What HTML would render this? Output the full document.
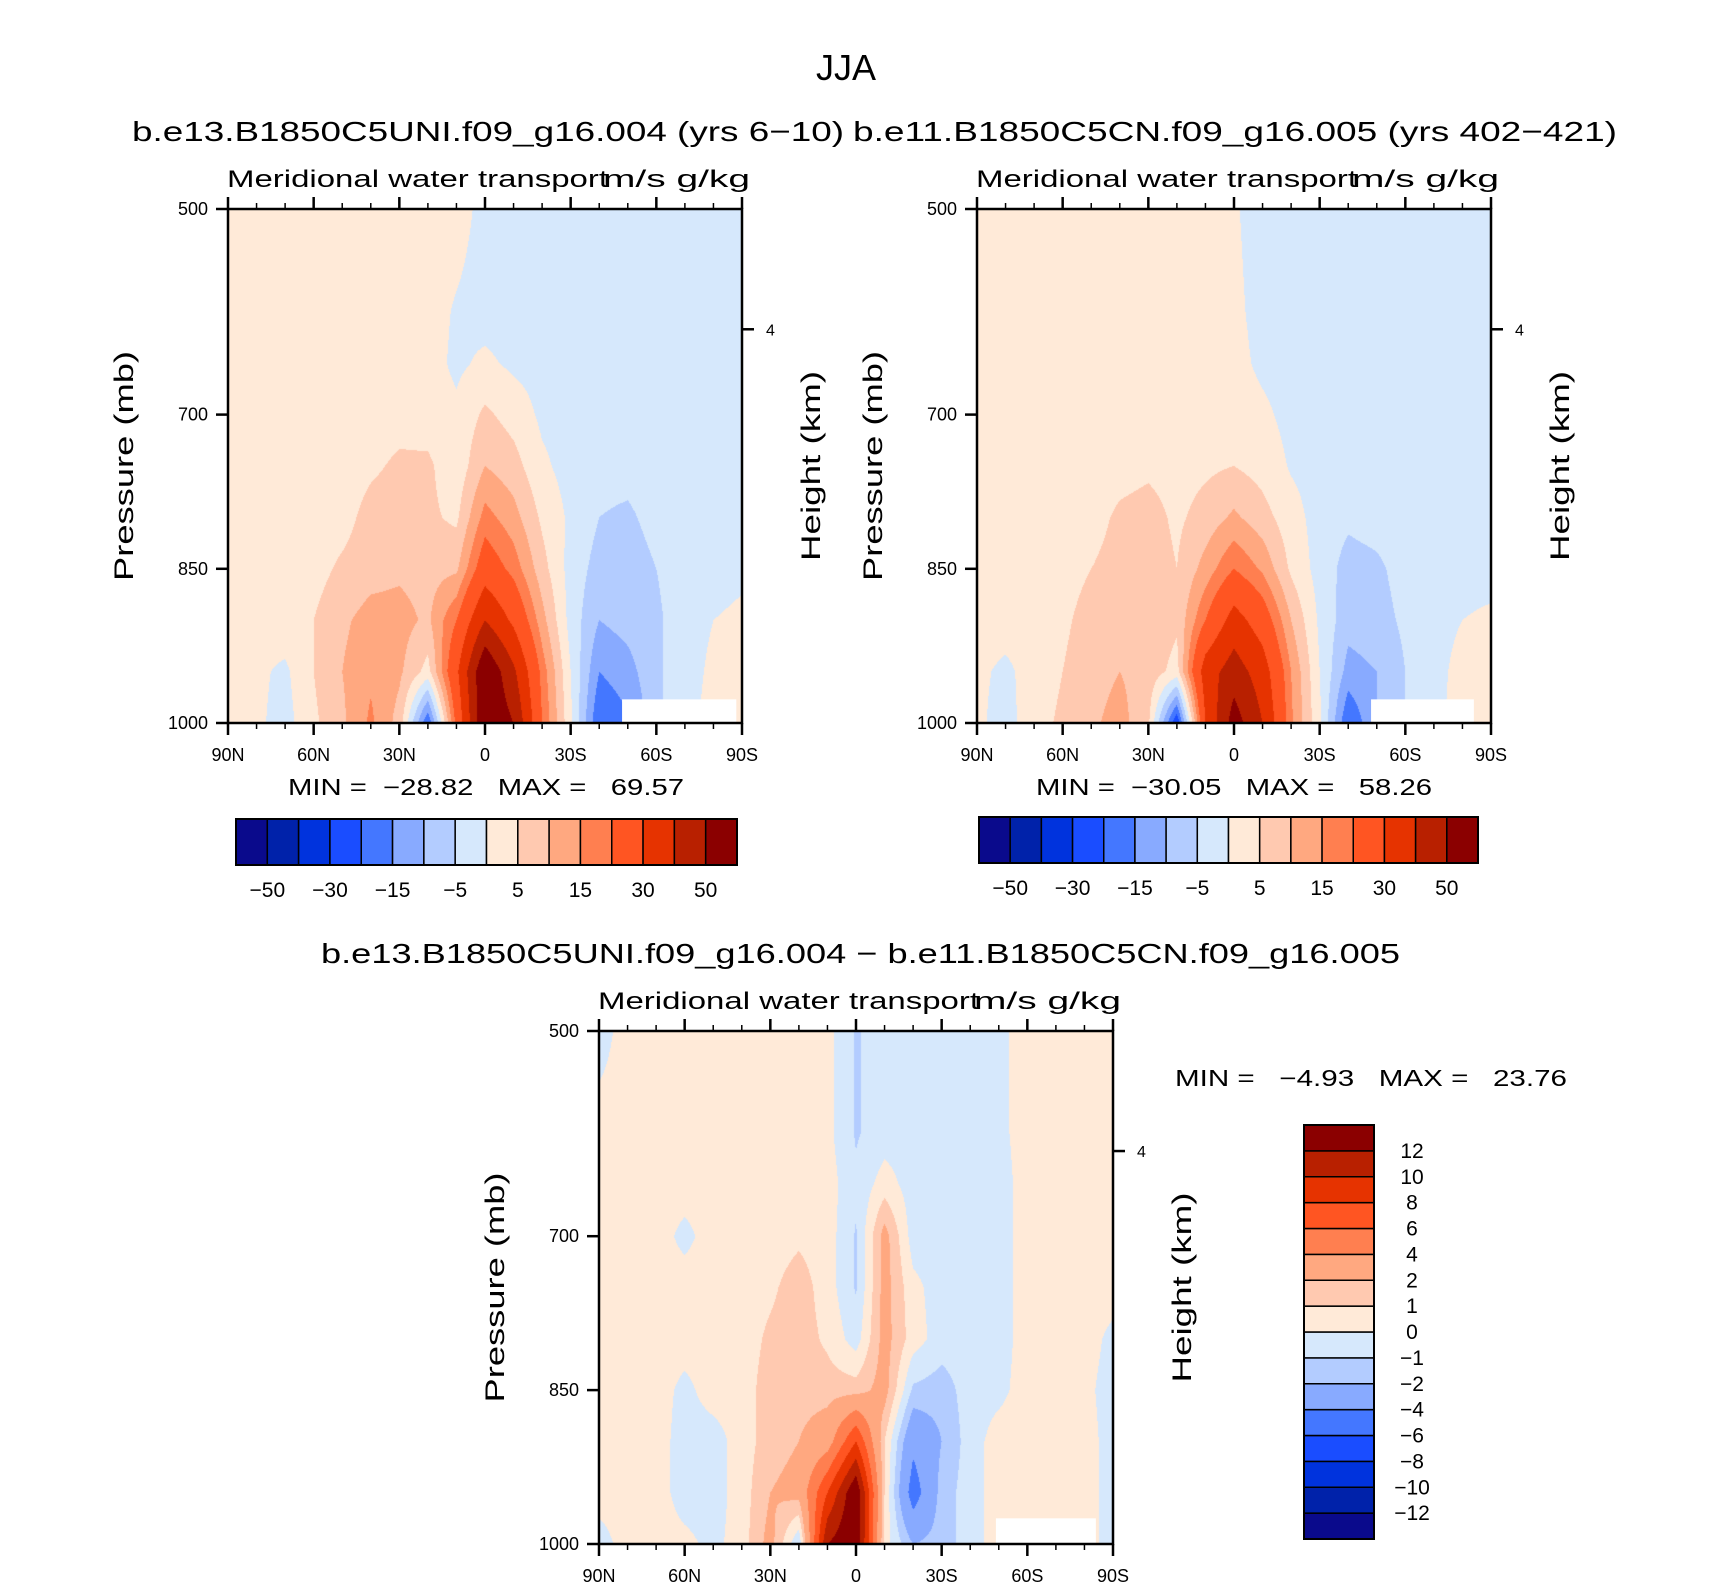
<!DOCTYPE html>
<html><head><meta charset="utf-8">
<style>
html,body{margin:0;padding:0;background:#fff;}
#wrap{position:relative;width:1710px;height:1591px;overflow:hidden;background:#fff;font-family:"Liberation Sans",sans-serif;}
canvas{position:absolute;}
svg{position:absolute;left:0;top:0;}
text{white-space:pre;}
</style></head>
<body>
<div id="wrap">
<svg id="svg" width="1710" height="1591"></svg>
</div>
<script>
const lats=[90,80,70,60,50,40,30,20,10,0,-10,-20,-30,-40,-50,-60,-70,-80,-90];
const pLevels=[500,600,650,700,750,800,850,900,950,1000];
const field1=[
[2,2,2,2,2,2,2,2,2,-1.5,-2,-2,-2,-2,-2,-2,-2,-2,-2],
[2,2,2,2,2,2,2,2,-0.5,-2,-2,-2,-2,-2,-2,-2,-2,-2,-2],
[2,2,2,2,2,2,2,2,-1,1,-1,-2,-2,-2,-2,-2,-2,-2,-2],
[2,2,2,2,2,2,3,2.5,1,6,3,-1,-2,-2,-2,-2,-2,-2,-2],
[2,2,2,2,2,4,6,6,1.5,10,7,1,-2,-3,-3,-2,-2,-2,-2],
[2,2,2,2,3,7,8,6,4,17,12,4,-1,-5,-6,-3,-2,-2,-2],
[2,2,2,3,6,8,9,8,9,25,18,7,-2,-7,-8,-5,-2,-2,-1],
[2,2,3,5,9,12,12,9,20,40,28,12,-2,-10,-8,-6,-2,0,1],
[2,1,-1,5,10,14,11,3,28,60,42,18,0,-15,-12,-6,-2,1,2],
[2,1,-2,4,9,16,8,-20,22,60,50,20,1,-20,-16,-6,-2,2,3]];
const field2=[
[2,2,2,2,2,2,2,2,2,0.5,-2,-2,-2,-2,-2,-2,-2,-2,-2],
[2,2,2,2,2,2,2,2,2,1,-1.5,-2,-2,-2,-2,-2,-2,-2,-2],
[2,2,2,2,2,2,2,2,2,1.5,-1,-2,-2,-2,-2,-2,-2,-2,-2],
[2,2,2,2,2,2,2,2,2,2.5,1,-1.5,-2,-2,-2,-2,-2,-2,-2],
[2,2,2,2,2,3,4,3,4,5,3,-0.5,-2,-2,-2,-2,-2,-2,-2],
[2,2,2,2,3,6,7,4,7,11,7,2,-2,-4,-3,-2,-2,-2,-2],
[2,2,2,3,5,7,8,5,12,20,14,4,-2,-7,-6,-3,-2,-2,-2],
[2,2,2,4,7,9,9,6,20,34,25,10,-1,-8,-7,-4,-2,0,1],
[1,-1,2,5,8,10,8,3,35,45,35,15,0,-12,-10,-5,-2,2,3],
[1,-2,3,6,9,12,6,-25,30,55,40,16,1,-20,-10,-5,-2,3,3]];
const field3=[
[-0.5,0.5,0.5,0.5,0.5,0.5,0.5,0.5,0.3,-1.1,-0.5,-0.5,-0.5,-0.5,-0.3,0.5,0.5,0.5,0.5],
[0.5,0.5,0.5,0.5,0.5,0.5,0.5,0.5,0.3,-1.1,-0.5,-0.5,-0.5,-0.5,-0.3,0.5,0.5,0.5,0.5],
[0.5,0.5,0.5,0.5,0.5,0.5,0.5,0.5,0.5,-0.8,0.5,-0.5,-0.5,-0.5,-0.5,0.5,0.5,0.5,0.5],
[0.5,0.5,0.5,-0.3,0.5,0.5,0.5,0.8,0.5,-1.1,2.5,-0.5,-0.5,-0.5,-0.5,0.5,0.5,0.5,0.5],
[0.5,0.5,0.5,0.5,0.5,0.5,0.8,1.5,0.5,-1.1,2.5,0.3,-0.5,-0.5,-0.5,0.5,0.5,0.5,0.5],
[0.5,0.5,0.5,0.5,0.5,0.5,1.2,1.5,0.8,-0.5,2.5,0.5,-0.5,-0.5,-0.5,0.5,0.5,0.5,-0.3],
[0.5,0.5,0.5,-0.3,0.5,0.5,1.5,1.5,1.5,1.5,2.5,-1.2,-1.5,-0.5,-0.3,0.5,0.5,0.3,-0.5],
[0.5,0.5,0.5,-0.5,-0.5,0.5,1.5,2,3,8,1,-3.5,-2,-0.5,0.5,0.5,0.5,0.5,-0.5],
[0.5,0.5,0.5,-0.5,-0.5,0.5,2,2.5,8,14,1,-5,-1.5,-0.5,0.5,0.5,0.5,0.5,-0.5],
[-0.5,0.5,0.5,0.3,-0.3,0.5,2.5,-1,12,14,0.5,-2,-1.5,-0.5,0.5,0.5,0.5,0.5,-0.5]];
const levels12=[-50,-40,-30,-20,-15,-10,-5,0,5,10,15,20,30,40,50];
const levels3=[-12,-10,-8,-6,-4,-2,-1,0,1,2,4,6,8,10,12];
const colors=["#0a0a8c","#0022aa","#0033dd","#1a4dff","#4477ff","#88aaff","#b3ccff","#d6e8fc","#ffead8","#ffc9b0","#ffa880","#ff7f50","#ff5522","#e63300","#b82000","#8b0000"];
const xTickLabels=["90N","60N","30N","0","30S","60S","90S"];
const xTickLats=[90,60,30,0,-30,-60,-90];
const yTickP=[500,700,850,1000];

const NS="http://www.w3.org/2000/svg";
const svg=document.getElementById('svg');
const wrap=document.getElementById('wrap');
function mk(tag,attrs,parent){const e=document.createElementNS(NS,tag);for(const k in attrs)e.setAttribute(k,attrs[k]);(parent||svg).appendChild(e);return e;}
function txt(s,x,y,size,anchor,name,extra){const t=mk('text',Object.assign({x:x,y:y,'font-size':size,'text-anchor':anchor||'middle','font-family':'Liberation Sans, sans-serif',fill:'#000'},extra||{}));t.textContent=s;


return t;}
function hexRgb(h){return [parseInt(h.substr(1,2),16),parseInt(h.substr(3,2),16),parseInt(h.substr(5,2),16)];}
const rgb=colors.map(hexRgb);
function sample(f,lat,p){
 let i=0;while(i<lats.length-2&&lat<lats[i+1])i++;
 let j=0;while(j<pLevels.length-2&&p>pLevels[j+1])j++;
 const tx=(lats[i]-lat)/(lats[i]-lats[i+1]);const ty=(p-pLevels[j])/(pLevels[j+1]-pLevels[j]);
 const a=f[j][i],b=f[j][i+1],c=f[j+1][i],d=f[j+1][i+1];
 return (a*(1-tx)+b*tx)*(1-ty)+(c*(1-tx)+d*tx)*ty;}
function cidx(v,lv){let k=0;while(k<lv.length&&v>=lv[k])k++;return k;}

function panel(cfg){
 const x0=cfg.x,y0=cfg.y,w=cfg.w,h=cfg.h;
 const xs=lat=>x0+(90-lat)/180*w;
 const ys=p=>y0+(p-500)/500*h;
 const cv=document.createElement('canvas');cv.width=w;cv.height=h;cv.style.left=x0+'px';cv.style.top=y0+'px';
 
 
 wrap.insertBefore(cv,svg);
 const ctx=cv.getContext('2d');const im=ctx.createImageData(w,h);
 for(let py=0;py<h;py++){const p=500+500*(py+0.5)/h;
  for(let px=0;px<w;px++){const lat=90-180*(px+0.5)/w;
   const c=rgb[cidx(sample(cfg.field,lat,p),cfg.levels)];const o=(py*w+px)*4;
   im.data[o]=c[0];im.data[o+1]=c[1];im.data[o+2]=c[2];im.data[o+3]=255;}}
 ctx.putImageData(im,0,0);
 const m=mk('rect',{x:xs(cfg.miss[0]),y:ys(cfg.miss[2]),width:xs(cfg.miss[1])-xs(cfg.miss[0]),height:ys(1000)-ys(cfg.miss[2]),fill:'#fff'});
 
 
 const fr=mk('rect',{x:x0,y:y0,width:w,height:h,fill:'none',stroke:'#000','stroke-width':2.5});
 
 
 for(let lat=90;lat>=-90;lat-=10){const major=lat%30===0;const L=major?12:6;
  mk('line',{x1:xs(lat),x2:xs(lat),y1:y0,y2:y0-L,stroke:'#000','stroke-width':major?2.5:1.5});
  mk('line',{x1:xs(lat),x2:xs(lat),y1:y0+h,y2:y0+h+L,stroke:'#000','stroke-width':major?2.5:1.5});}
 xTickLats.forEach((lat,k)=>{txt(xTickLabels[k],xs(lat),y0+h+38,18,'middle',cfg.name+'-x-tick-label');});
 yTickP.forEach(p=>{mk('line',{x1:x0-12,x2:x0,y1:ys(p),y2:ys(p),stroke:'#000','stroke-width':2.5});
  txt(String(p),x0-20,ys(p)+6,18,'end',cfg.name+'-y-tick-label');});
 mk('line',{x1:x0+w,x2:x0+w+12,y1:ys(617),y2:ys(617),stroke:'#000','stroke-width':2.5});
 txt('4',x0+w+24,ys(617)+6,16,'start',cfg.name+'-height-tick-label');
 txt('Pressure (mb)',0,0,27,'middle',cfg.name+'-y-axis-title',{transform:`translate(${x0-95},${y0+h/2}) rotate(-90)`,textLength:230,lengthAdjust:'spacingAndGlyphs'});
 txt('Height (km)',0,0,27,'middle',cfg.name+'-right-axis-title',{transform:`translate(${x0+w+78},${y0+h/2}) rotate(-90)`,textLength:190,lengthAdjust:'spacingAndGlyphs'});
 txt('Meridional water transport',x0-1,y0-22,24,'start',cfg.name+'-left-title',{textLength:381,lengthAdjust:'spacingAndGlyphs'});
 txt('m/s g/kg',x0+w+8,y0-22,24,'end',cfg.name+'-units-label',{textLength:147,lengthAdjust:'spacingAndGlyphs'});
}
function hbar(x0,y0,w,h,name){const bw=w/16;
 colors.forEach((c,k)=>{const r=mk('rect',{x:x0+k*bw,y:y0,width:bw,height:h,fill:c,stroke:'#000','stroke-width':1.5});
  
  });
 mk('rect',{x:x0,y:y0,width:w,height:h,fill:'none',stroke:'#000','stroke-width':2});
 levels12.forEach((v,k)=>{if(k%2===0)txt(String(v).replace('-','\u2212'),x0+(k+1)*bw,y0+h+32,21,'middle',name+'-label');});
}
function vbar(x0,y0,w,h,name){const bh=h/16;
 colors.forEach((c,k)=>{const r=mk('rect',{x:x0,y:y0+(15-k)*bh,width:w,height:bh,fill:c,stroke:'#000','stroke-width':1.5});
  
  });
 mk('rect',{x:x0,y:y0,width:w,height:h,fill:'none',stroke:'#000','stroke-width':2});
 levels3.forEach((v,k)=>{txt(String(v).replace('-','\u2212'),x0+w+38,y0+(15-k)*bh+7,21,'middle',name+'-label');});
}
panel({name:'panel-control',x:228,y:209,w:514,h:514,field:field1,levels:levels12,miss:[-48,-88,977]});
panel({name:'panel-experiment',x:977,y:209,w:514,h:514,field:field2,levels:levels12,miss:[-48,-84,977]});
panel({name:'panel-difference',x:599,y:1031,w:514,h:513,field:field3,levels:levels3,miss:[-49,-84,975]});
hbar(236,819,501,46,'colorbar-control');
hbar(979,817,499,46,'colorbar-experiment');
vbar(1304,1125,70,414,'colorbar-difference');
txt('JJA',846,80,36,'middle','figure-title');
txt('b.e13.B1850C5UNI.f09_g16.004 (yrs 6\u221210)',132,141,28,'start','panel-control-title',{textLength:712,lengthAdjust:'spacingAndGlyphs'});
txt('b.e11.B1850C5CN.f09_g16.005 (yrs 402\u2212421)',853,141,28,'start','panel-experiment-title',{textLength:764,lengthAdjust:'spacingAndGlyphs'});
txt('b.e13.B1850C5UNI.f09_g16.004 \u2212 b.e11.B1850C5CN.f09_g16.005',321,963,28,'start','panel-difference-title',{textLength:1079,lengthAdjust:'spacingAndGlyphs'});
txt('MIN =  \u221228.82   MAX =   69.57',288,795,23,'start','panel-control-minmax',{textLength:396,lengthAdjust:'spacingAndGlyphs'});
txt('MIN =  \u221230.05   MAX =   58.26',1036,795,23,'start','panel-experiment-minmax',{textLength:396,lengthAdjust:'spacingAndGlyphs'});
txt('MIN =   \u22124.93   MAX =   23.76',1175,1086,23,'start','panel-difference-minmax',{textLength:392,lengthAdjust:'spacingAndGlyphs'});
</script>
</body></html>
